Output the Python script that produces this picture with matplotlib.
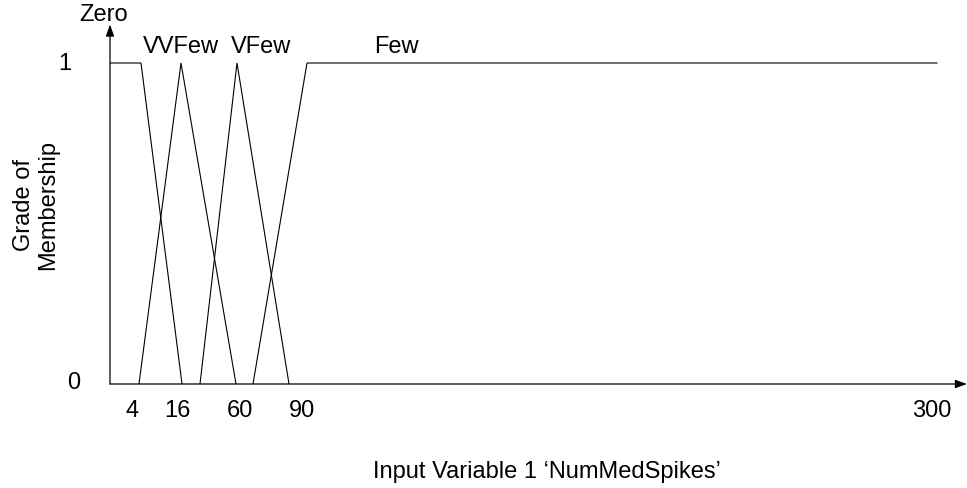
import matplotlib.pyplot as plt

plt.rcParams['font.family'] = ['Liberation Sans', 'DejaVu Sans']

# schematic x positions (not to scale) of each membership function's corners
zero_x = [0, 31, 72]
zero_y = [1, 1, 0]
vvfew_x = [29, 71, 126]
vvfew_y = [0, 1, 0]
vfew_x = [90, 127, 179]
vfew_y = [0, 1, 0]
few_x = [143, 197, 827]
few_y = [0, 1, 1]

set_names = ['Zero', 'VVFew', 'VFew', 'Few']
name_x = [-6, 71, 151, 286]
name_y = [1.153, 1.053, 1.053, 1.053]

tick_pos = [22, 67, 130, 192, 822]
tick_labels = ['4', '16', '60', '90', '300']

W, H = 967, 489
fig = plt.figure(figsize=(W / 100, H / 100), dpi=100)
ax = fig.add_axes([110 / W, (H - 385) / H, 857 / W, 1.12 * 321 / H])
ax.set_xlim(0, 857)
ax.set_ylim(0, 1.12)
ax.axis('off')

fs = 17
for xs, ys in [(zero_x, zero_y), (vvfew_x, vvfew_y), (vfew_x, vfew_y), (few_x, few_y)]:
    ax.plot(xs, ys, color='black', lw=0.8, solid_joinstyle='miter')

# axes drawn as arrows
arrow = dict(arrowstyle='-|>,head_length=0.7,head_width=0.25', color='black', lw=0.9,
             shrinkA=0, shrinkB=0)
ax.annotate('', xy=(857, 0), xytext=(0, 0), arrowprops=arrow, annotation_clip=False)
ax.annotate('', xy=(0, 1.12), xytext=(0, 0), arrowprops=arrow, annotation_clip=False)

for name, nx, ny in zip(set_names, name_x, name_y):
    ax.text(nx, ny, name, fontsize=fs, ha='center', va='center')

for pos, lab in zip(tick_pos, tick_labels):
    ax.text(pos, -26 / 321, lab, fontsize=fs, ha='center', va='center')

ax.text(-45, 1, '1', fontsize=fs, ha='center', va='center')
ax.text(-36, 0.005, '0', fontsize=fs, ha='center', va='center')

ax.text(-74, 0.56, 'Grade of\nMembership', fontsize=fs, rotation=90,
        ha='center', va='center', linespacing=1.15)
ax.text(437, -87 / 321, 'Input Variable 1 \u2018NumMedSpikes\u2019', fontsize=fs,
        ha='center', va='center')

fig.savefig('out.png', dpi=100)
